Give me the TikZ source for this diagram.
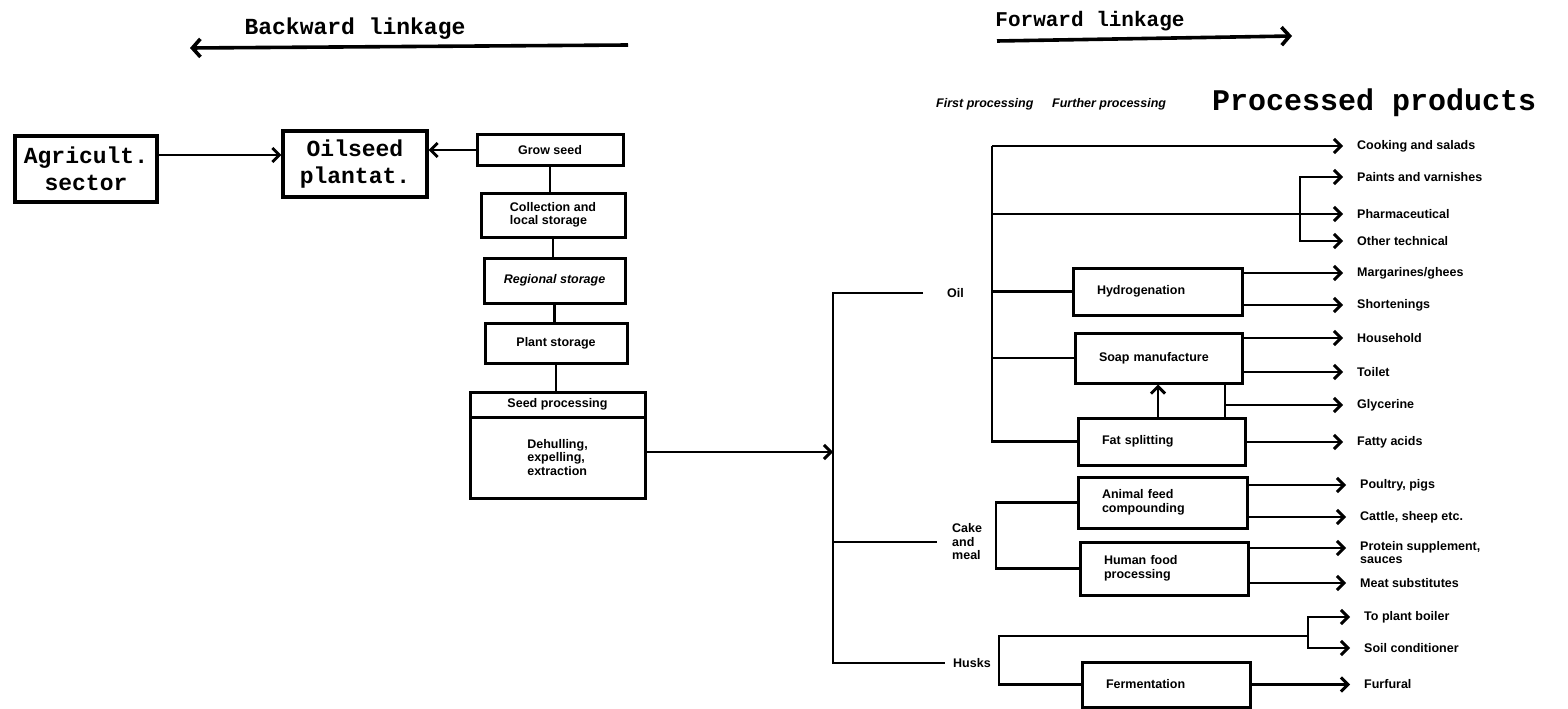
\documentclass[tikz,border=0pt]{standalone}
\usepackage{fontspec}
\setmainfont{Liberation Sans}
\newfontfamily\twfont{Liberation Mono}
\usetikzlibrary{arrows.meta}
\newcommand\labfont{\bfseries\fontsize{12.5}{13.5}\selectfont}
\newcommand\twbig{\twfont\bfseries\fontsize{23}{27}\selectfont}
\begin{document}
\begin{tikzpicture}[x=1pt,y=-1pt,
  conn/.style={line width=2.9pt},
  arr/.style={conn,-{Straight Barb[length=7pt,width=14pt]}},
  darr/.style={conn,{Straight Barb[length=7pt,width=14pt]}-{Straight Barb[length=7pt,width=14pt]}},
  tarr/.style={line width=3.6pt,-{Straight Barb[length=8pt,width=18pt]}},
  ttl/.style={font=\twfont\bfseries\fontsize{23}{26}\selectfont, inner sep=0pt},
  lbox/.style={draw, line width=3.2pt, font=\twbig, align=center, inner sep=0pt},
  cbox/.style={draw, line width=3pt, font=\labfont, align=center, inner sep=0pt},
  rbox/.style={draw, line width=3pt, font=\labfont, align=left, inner xsep=24pt, inner ysep=0pt},
  plab/.style={font=\labfont, anchor=west, inner sep=0pt, align=left},
  hdr/.style={font=\labfont\itshape, anchor=west, inner sep=0pt},
]
\useasboundingbox (0,0) rectangle (1568,709);

% titles
\node[ttl] (bwl) at (355,29) {Backward linkage};
\coordinate (bwa) at (628,45);
\coordinate (bwb) at (190,48);
\draw[tarr] (bwa) -- (bwb);
\node[ttl, font=\twfont\bfseries\fontsize{21}{24}\selectfont] (fwl) at (1090,21) {Forward linkage};
\coordinate (fwa) at (997,41);
\coordinate (fwb) at (1292,36);
\draw[tarr] (fwa) -- (fwb);

% left chain
\node[lbox, minimum width=142pt, minimum height=66pt] (agr) at (86,169) {Agricult.\\sector};
\node[lbox, minimum width=144pt, minimum height=66pt] (ops) at (355,164) {Oilseed\\plantat.};
\node[cbox, minimum width=146pt, minimum height=31pt] (grow) at (550,150) {Grow seed};
\node[cbox, minimum width=144pt, minimum height=44pt, align=left] (coll) at (553,215) {Collection and\\local storage};
\node[cbox, minimum width=141pt, minimum height=45pt] (reg) at (554.5,280.5) {\itshape Regional storage};
\node[cbox, minimum width=142pt, minimum height=40pt] (plant) at (556,343) {Plant storage};
\node[cbox, minimum width=175pt, minimum height=25pt] (seedh) at (557.5,404.5) {Seed processing};
\node[cbox, minimum width=175pt, minimum height=81pt, align=left] (seedb) at (557.5,457.5) {Dehulling,\\expelling,\\extraction};

\coordinate (ya) at (0,155);
\draw[arr] (agr.east |- ya) -- (ops.west |- ya);
\draw[arr] (grow.west) -- (grow.west -| ops.east);
\draw[conn] (grow.south) -- (grow.south |- coll.north);
\draw[conn] (coll.south) -- (coll.south |- reg.north);
\draw[conn] (reg.south) -- (reg.south |- plant.north);
\draw[conn] (plant.south) -- (plant.south |- seedh.north);

% trunk
\node[plab] (oillab) at (947,293) {Oil};
\node[plab] (cakelab) at (952,542) {Cake\\and\\meal};
\node[plab] (husklab) at (953,663) {Husks};
\coordinate (tr) at (833,452);
\draw[arr] (seedb.east |- tr) -- (tr);
\draw[conn] ([xshift=-24pt]oillab.west) -- (oillab.west -| tr) -- (husklab.west -| tr) -- ([xshift=-8pt]husklab.west);
\draw[conn] (cakelab.west -| tr) -- ([xshift=-15pt]cakelab.west);

% headers
\node[hdr] (h1) at (936,104) {First processing};
\node[hdr] (h2) at (1052,104) {Further processing};
\node[font=\twfont\bfseries\fontsize{30}{32}\selectfont, anchor=west, inner sep=0pt] (h3) at (1212,103) {Processed products};

% right boxes
\node[rbox, text width=121pt, minimum height=47pt] (hyd) at (1157.5,291.5) {Hydrogenation};
\node[rbox, text width=119pt, minimum height=50pt] (soap) at (1158.5,358) {Soap manufacture};
\node[rbox, text width=119pt, minimum height=47pt] (fat) at (1161.5,441.5) {Fat splitting};
\node[rbox, text width=121pt, minimum height=51pt] (anim) at (1162.5,502.5) {Animal feed\\compounding};
\node[rbox, text width=120pt, minimum height=53pt] (hum) at (1164,568.5) {Human food\\processing};
\node[rbox, text width=120pt, minimum height=45pt] (ferm) at (1166,684.5) {Fermentation};

% product labels
\node[plab] (cook) at (1357,146) {Cooking and salads};
\node[plab] (paint) at (1357,177) {Paints and varnishes};
\node[plab] (pharm) at (1357,214) {Pharmaceutical};
\node[plab] (other) at (1357,241) {Other technical};
\node[plab] (marg) at (1357,273) {Margarines/ghees};
\node[plab] (short) at (1357,305) {Shortenings};
\node[plab] (house) at (1357,338) {Household};
\node[plab] (toil) at (1357,372) {Toilet};
\node[plab] (glyc) at (1357,405) {Glycerine};
\node[plab] (fatty) at (1357,442) {Fatty acids};
\node[plab] (poul) at (1360,485) {Poultry, pigs};
\node[plab] (catt) at (1360,517) {Cattle, sheep etc.};
\node[plab, anchor=north west] (prot) at (1360,541) {Protein supplement,\\sauces};
\node[plab] (meat) at (1360,583) {Meat substitutes};
\node[plab] (boil) at (1364,617) {To plant boiler};
\node[plab] (soil) at (1364,648) {Soil conditioner};
\node[plab] (furf) at (1364,684.5) {Furfural};

% oil branch
\coordinate (ot) at (992,146);
\draw[arr] (ot) -- ([xshift=-14pt]cook.west);
\draw[conn] (ot) -- (fat.west -| ot) -- (fat.west);
\draw[arr] (pharm.west -| ot) -- ([xshift=-14pt]pharm.west);
\coordinate (pb) at (1300,0);
\draw[darr] ([xshift=-14pt]paint.west) -- (paint.west -| pb) -- (other.west -| pb) -- ([xshift=-14pt]other.west);
\draw[conn] (hyd.west -| ot) -- (hyd.west);
\draw[conn] (soap.west -| ot) -- (soap.west);
\draw[arr] (hyd.east |- marg.west) -- ([xshift=-14pt]marg.west);
\draw[arr] (hyd.east |- short.west) -- ([xshift=-14pt]short.west);
\draw[arr] (soap.east |- house.west) -- ([xshift=-14pt]house.west);
\draw[arr] (soap.east |- toil.west) -- ([xshift=-14pt]toil.west);
\coordinate (up) at (1158,0);
\draw[arr] (fat.north -| up) -- (soap.south -| up);
\coordinate (gx) at (1225,0);
\draw[conn] (fat.north -| gx) -- (soap.south -| gx);
\draw[arr] (glyc.west -| gx) -- ([xshift=-14pt]glyc.west);
\draw[arr] (fat.east |- fatty.west) -- ([xshift=-14pt]fatty.west);

% cake branch
\coordinate (cb) at (996,0);
\draw[conn] (anim.west) -- (anim.west -| cb) -- (hum.west -| cb) -- (hum.west);
\draw[arr] (anim.east |- poul.west) -- ([xshift=-14pt]poul.west);
\draw[arr] (anim.east |- catt.west) -- ([xshift=-14pt]catt.west);
\draw[arr] ([yshift=-7pt]hum.east |- prot.north west) -- ([xshift=-14pt,yshift=-7pt]prot.north west);
\draw[arr] (hum.east |- meat.west) -- ([xshift=-14pt]meat.west);

% husks branch
\coordinate (hb) at (999,0);
\coordinate (hbr) at (1308,636);
\draw[conn] (hbr) -- (hbr -| hb) -- (ferm.west -| hb) -- (ferm.west);
\draw[darr] ([xshift=-14pt]boil.west) -- (boil.west -| hbr) -- (soil.west -| hbr) -- ([xshift=-14pt]soil.west);
\draw[arr] (ferm.east) -- ([xshift=-14pt]furf.west);
\end{tikzpicture}
\end{document}
